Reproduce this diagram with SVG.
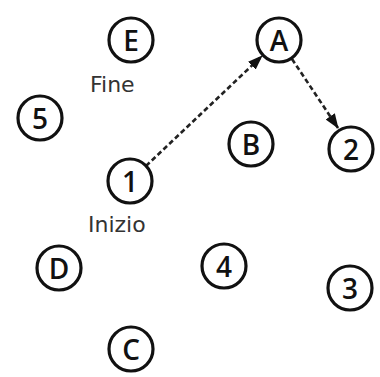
<svg xmlns="http://www.w3.org/2000/svg" width="380" height="377" viewBox="0 0 380 377">
  <style>
    .node circle { fill: #fff; stroke: #111; stroke-width: 3.2; }
    .node text { font-family: "Open Sans", "DejaVu Sans", sans-serif; font-weight: 600; font-size: 28px; fill: #111; text-anchor: middle; dominant-baseline: central; }
    .label { font-family: "DejaVu Sans", "Liberation Sans", sans-serif; font-size: 22px; fill: #333; }
    .edge { fill: none; stroke: #222; stroke-width: 2.6; stroke-dasharray: 5 3; }
  </style>
  <defs>
    <marker id="arrow" markerUnits="userSpaceOnUse" markerWidth="15" markerHeight="11" refX="14" refY="5.5" orient="auto">
      <path d="M0,0 L15,5.5 L0,11 Z" fill="#111"/>
    </marker>
  </defs>
  <rect width="380" height="377" fill="#fff"/>

  <!-- connectors -->
  <g id="connectors">
    <line class="edge" x1="146" y1="166" x2="262" y2="56" marker-end="url(#arrow)"/>
    <line class="edge" x1="292" y1="59" x2="338" y2="128" marker-end="url(#arrow)"/>
  </g>

  <!-- nodes -->
  <g id="node-E" class="node"><circle cx="131" cy="40" r="22"/><text x="131" y="40">E</text></g>
  <g id="node-A" class="node"><circle cx="279" cy="40" r="22"/><text x="279" y="40">A</text></g>
  <g id="node-5" class="node"><circle cx="40" cy="118" r="22"/><text x="40" y="118">5</text></g>
  <g id="node-B" class="node"><circle cx="251" cy="144" r="22"/><text x="251" y="144">B</text></g>
  <g id="node-2" class="node"><circle cx="351" cy="149" r="22"/><text x="351" y="149">2</text></g>
  <g id="node-1" class="node"><circle cx="130" cy="181" r="22"/><text x="130" y="181">1</text></g>
  <g id="node-D" class="node"><circle cx="59" cy="268" r="22"/><text x="59" y="268">D</text></g>
  <g id="node-4" class="node"><circle cx="224" cy="266" r="22"/><text x="224" y="266">4</text></g>
  <g id="node-3" class="node"><circle cx="350" cy="288" r="22"/><text x="350" y="288">3</text></g>
  <g id="node-C" class="node"><circle cx="131" cy="349" r="22"/><text x="131" y="349">C</text></g>

  <!-- start / end labels -->
  <text class="label" x="90" y="92">Fine</text>
  <text class="label" x="88" y="232">Inizio</text>
</svg>
